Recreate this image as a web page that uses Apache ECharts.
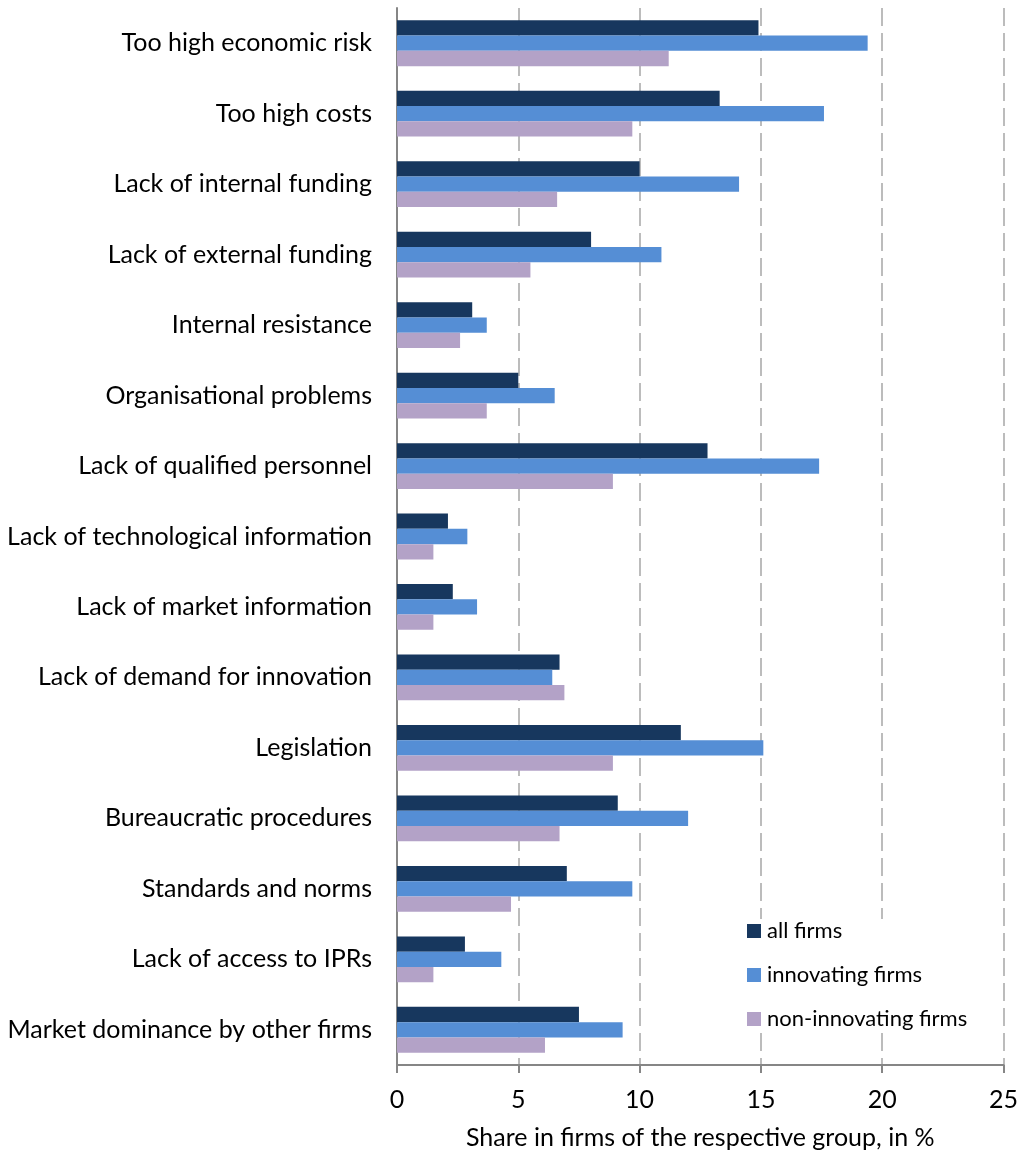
<!DOCTYPE html>
<html>
<head>
<meta charset="utf-8">
<script src="https://cdn.jsdelivr.net/npm/echarts@6/dist/echarts.min.js"></script>
<style>html,body{margin:0;padding:0;background:#fff}#c{width:1021px;height:1155px}</style>
</head>
<body>
<div id="c"></div>
<script>
const categories = ["Too high economic risk","Too high costs","Lack of internal funding","Lack of external funding","Internal resistance","Organisational problems","Lack of qualified personnel","Lack of technological information","Lack of market information","Lack of demand for innovation","Legislation","Bureaucratic procedures","Standards and norms","Lack of access to IPRs","Market dominance by other firms"];
const allFirms = [14.9,13.3,10.0,8.0,3.1,5.0,12.8,2.1,2.3,6.7,11.7,9.1,7.0,2.8,7.5];
const innovatingFirms = [19.4,17.6,14.1,10.9,3.7,6.5,17.4,2.9,3.3,6.4,15.1,12.0,9.7,4.3,9.3];
const nonInnovatingFirms = [11.2,9.7,6.6,5.5,2.6,3.7,8.9,1.5,1.5,6.9,8.9,6.7,4.7,1.5,6.1];
const xTicks = {min:0, max:25, interval:5};
const xTitle = "Share in firms of the respective group, in %";

const chart = echarts.init(document.getElementById('c'), null, {renderer:'canvas'});
const font = 'Lato, "Open Sans", sans-serif';
chart.setOption({
  animation:false,
  textStyle:{fontFamily:font},
  grid:{left:397, right:16, top:8, bottom:87, containLabel:false},
  legend:{
    orient:'vertical', left:747, top:919, padding:0, itemWidth:14, itemHeight:14, itemGap:20,
    icon:'rect', backgroundColor:'#fff',
    textStyle:{fontSize:22, lineHeight:24, color:'#000', fontFamily:font, padding:[0,0,0,1]},
    data:['all firms','innovating firms','non-innovating firms']
  },
  xAxis:{
    type:'value', min:xTicks.min, max:xTicks.max, interval:xTicks.interval,
    name:xTitle, nameLocation:'middle', nameGap:60,
    nameTextStyle:{fontSize:25, color:'#000', fontFamily:font},
    axisLine:{show:true, lineStyle:{color:'#868686', width:2}},
    axisTick:{show:true, length:8, lineStyle:{color:'#868686', width:2}},
    axisLabel:{fontSize:25, color:'#000', margin:22, fontFamily:font},
    splitLine:{show:true, lineStyle:{color:'#A6A6A6', width:1.5, type:[18,7]}}
  },
  yAxis:{
    type:'category', data:categories, inverse:true,
    axisLine:{show:true, lineStyle:{color:'#868686', width:2}},
    axisTick:{show:false},
    axisLabel:{fontSize:25, color:'#000', margin:25, fontFamily:font},
    splitLine:{show:false}
  },
  series:[
    {name:'all firms', type:'bar', data:allFirms, barGap:'0%', barCategoryGap:'35%', itemStyle:{color:'#17375E'}},
    {name:'innovating firms', type:'bar', data:innovatingFirms, barGap:'0%', barCategoryGap:'35%', itemStyle:{color:'#558ED5'}},
    {name:'non-innovating firms', type:'bar', data:nonInnovatingFirms, barGap:'0%', barCategoryGap:'35%', itemStyle:{color:'#B3A2C7'}}
  ]
});
</script>
</body>
</html>
